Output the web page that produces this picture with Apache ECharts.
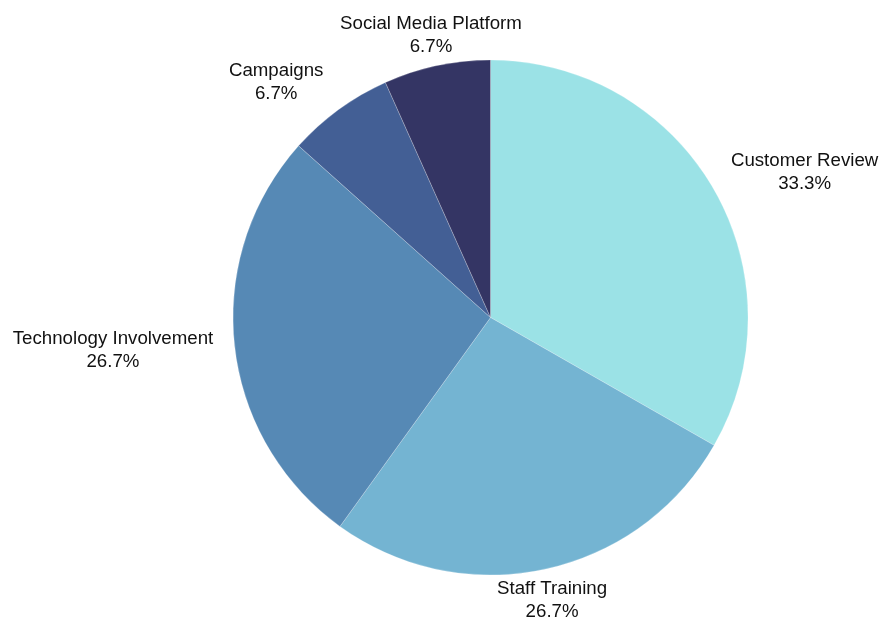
<!DOCTYPE html>
<html>
<head>
<meta charset="utf-8">
<script src="https://cdn.jsdelivr.net/npm/echarts@6/dist/echarts.min.js"></script>
<style>
  html, body { margin: 0; padding: 0; background: #fff; }
  #chart { width: 888px; height: 620px; }
</style>
</head>
<body>
<div id="chart"></div>
<script>
// slices, clockwise from 12 o'clock
const categories = ['Customer Review', 'Staff Training', 'Technology Involvement', 'Campaigns', 'Social Media Platform']
const shares = [33.3, 26.7, 26.7, 6.7, 6.7]

const colors = ['#9BE2E6', '#74B4D2', '#5689B5', '#435F95', '#343564']

// label spot around the pie: angle (deg, clockwise from top) and distance from centre in px
const labelSpots = [[65.2, 346], [167.7, 289], [265, 379], [317.7, 318.5], [348.1, 288.7]]

const center = ['55.24%', '51.21%']
const radius = 257.5

const chart = echarts.init(document.getElementById('chart'))

const option = {
  animation: false,
  color: colors,
  series: [{
    type: 'pie',
    center: center,
    radius: radius,
    startAngle: 90,
    clockwise: true,
    itemStyle: { borderColor: 'rgba(255,255,255,0.45)', borderWidth: 0.5 },
    label: {
      show: true,
      position: 'outside',
      overflow: 'none',
      fontFamily: 'Liberation Sans, Arial, sans-serif',
      fontSize: 18.7,
      lineHeight: 23,
      color: '#111',
      formatter: p => p.name + '\n' + p.value.toFixed(1) + '%'
    },
    labelLine: { show: false },
    labelLayout: function (params) {
      const cx = chart.getWidth() * parseFloat(center[0]) / 100
      const cy = chart.getHeight() * parseFloat(center[1]) / 100
      const s = labelSpots[params.dataIndex]
      const a = s[0] * Math.PI / 180
      return {
        x: cx + Math.sin(a) * s[1],
        y: cy - Math.cos(a) * s[1],
        align: 'center',
        verticalAlign: 'middle'
      }
    },
    emphasis: { disabled: true },
    data: categories.map((c, i) => ({ name: c, value: shares[i] }))
  }]
}

chart.setOption(option)
</script>
</body>
</html>
